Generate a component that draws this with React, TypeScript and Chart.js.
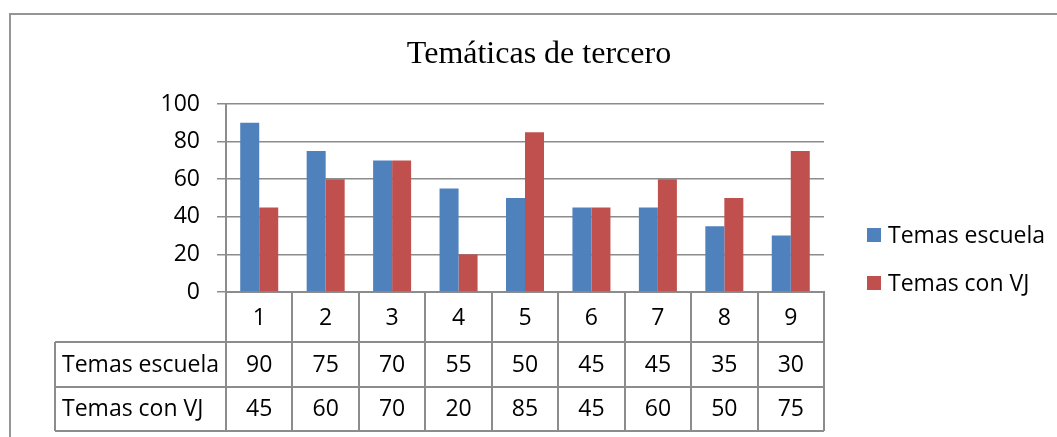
import React, { useEffect, useRef } from "react";
import { Chart, registerables } from "chart.js";

Chart.register(...registerables);

const chartTitle = "Temáticas de tercero";
const categories = ["1", "2", "3", "4", "5", "6", "7", "8", "9"];
const seriesNames = ["Temas escuela", "Temas con VJ"];
const temasEscuela = [90, 75, 70, 55, 50, 45, 45, 35, 30];
const temasConVJ = [45, 60, 70, 20, 85, 45, 60, 50, 75];
const yMin = 0;
const yMax = 100;
const yStep = 20;

const seriesColors = ["#4F81BD", "#C0504D"];
const FONT = "'Open Sans'";
const TEXT_SIZE = 23;
const LINE = "#8c8c8c";

const W = 1057;
const H = 437;

const framePlugin = {
  id: "frame",
  beforeDraw(chart: any) {
    const { ctx } = chart;
    ctx.save();
    ctx.fillStyle = "#ffffff";
    ctx.fillRect(0, 0, chart.width, chart.height);
    ctx.strokeStyle = "#959595";
    ctx.lineWidth = 2;
    ctx.strokeRect(10, 14, chart.width + 50, chart.height + 50);
    ctx.restore();
  },
};

const tablePlugin = {
  id: "dataTable",
  afterDraw(chart: any) {
    const { ctx, chartArea } = chart;
    const xs = chart.scales.x;
    const left = chartArea.left;
    const right = chartArea.right;
    const top = chartArea.bottom;
    const bottom = xs.bottom;
    const h = bottom - top;
    const r1 = top + h * 0.36;
    const r2 = r1 + (bottom - r1) / 2;
    const labelLeft = left - 171;
    const n = categories.length;
    const cw = (right - left) / n;

    ctx.save();
    ctx.strokeStyle = LINE;
    ctx.lineWidth = 2;
    ctx.beginPath();
    for (let i = 0; i <= n; i++) {
      const xx = Math.round(left + i * cw);
      ctx.moveTo(xx, top);
      ctx.lineTo(xx, bottom);
    }
    [r1, r2, bottom].forEach((yy) => {
      ctx.moveTo(labelLeft, Math.round(yy));
      ctx.lineTo(right, Math.round(yy));
    });
    ctx.moveTo(labelLeft, Math.round(r1));
    ctx.lineTo(labelLeft, bottom);
    ctx.stroke();

    ctx.fillStyle = "#000";
    ctx.font = `${TEXT_SIZE}px ${FONT}`;
    ctx.textBaseline = "middle";
    ctx.textAlign = "center";
    const rows = [temasEscuela, temasConVJ];
    categories.forEach((c, i) => {
      const cx = xs.getPixelForValue(i);
      ctx.fillText(c, cx, (top + r1) / 2 + 1);
      ctx.fillText(String(rows[0][i]), cx, (r1 + r2) / 2 + 1);
      ctx.fillText(String(rows[1][i]), cx, (r2 + bottom) / 2 + 1);
    });
    ctx.textAlign = "left";
    ctx.fillText(seriesNames[0], labelLeft + 7, (r1 + r2) / 2 + 1);
    ctx.fillText(seriesNames[1], labelLeft + 7, (r2 + bottom) / 2 + 1);

    // legend
    const lx = right + 43;
    const ly = chartArea.top + 131;
    chart.data.datasets.forEach((ds: any, i: number) => {
      const yy = ly + i * 48;
      ctx.fillStyle = ds.backgroundColor;
      ctx.fillRect(lx, yy - 7, 14, 14);
      ctx.fillStyle = "#000";
      ctx.fillText(ds.label, lx + 21, yy + 1);
    });
    ctx.restore();
  },
};

export default function App() {
  const ref = useRef<HTMLCanvasElement | null>(null);

  useEffect(() => {
    document.body.style.margin = "0";
    const canvas = ref.current;
    if (!canvas) return;
    const chart = new Chart(canvas, {
      type: "bar",
      data: {
        labels: categories,
        datasets: [
          {
            label: seriesNames[0],
            data: temasEscuela,
            backgroundColor: seriesColors[0],
            categoryPercentage: 0.572,
            barPercentage: 1,
            yAxisID: "y",
          },
          {
            label: seriesNames[1],
            data: temasConVJ,
            backgroundColor: seriesColors[1],
            categoryPercentage: 0.572,
            barPercentage: 1,
            yAxisID: "y",
          },
        ],
      },
      options: {
        responsive: false,
        animation: false,
        events: [],
        layout: { padding: { left: 21, right: 0, top: 14, bottom: 6 } },
        plugins: {
          legend: { display: false },
          tooltip: { enabled: false },
          title: {
            display: true,
            text: chartTitle,
            color: "#000",
            font: { family: "Liberation Serif", size: 32, weight: "normal", lineHeight: 1.2 },
            padding: { top: 21, bottom: 30.6 },
          },
        },
        scales: {
          x: {
            offset: true,
            grid: { display: false },
            border: { display: true, color: LINE, width: 2 },
            ticks: { display: false },
            afterFit: (s: any) => {
              s.height = 139;
            },
          },
          y: {
            min: yMin,
            max: yMax,
            position: "left",
            grid: { color: LINE, lineWidth: 1.5, tickLength: 9, drawTicks: true },
            border: { display: true, color: LINE, width: 2 },
            ticks: {
              stepSize: yStep,
              color: "#000",
              padding: 17,
              font: { family: "Open Sans", size: TEXT_SIZE },
            },
            afterFit: (s: any) => {
              s.width = 205;
            },
          },
          legendSpace: {
            type: "linear",
            position: "right",
            display: true,
            grid: { display: false, drawTicks: false },
            border: { display: false },
            ticks: { display: false },
            afterFit: (s: any) => {
              s.width = 233;
            },
          },
        },
      },
      plugins: [framePlugin, tablePlugin],
    } as any);
    return () => chart.destroy();
  }, []);

  return (
    <div style={{ width: W, height: H, position: "relative" }}>
      <canvas ref={ref} width={W} height={H} style={{ display: "block" }} />
    </div>
  );
}
